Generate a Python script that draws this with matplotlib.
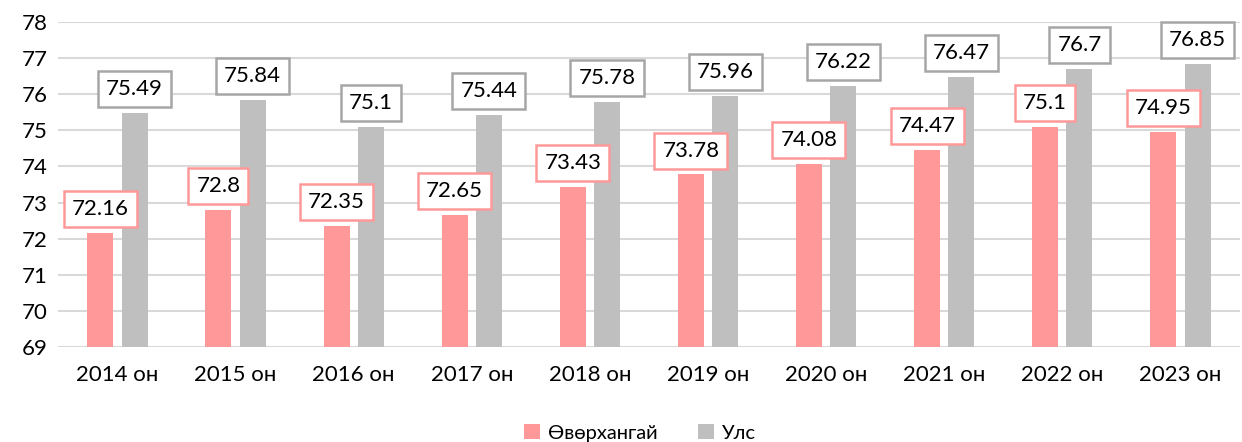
import matplotlib
matplotlib.use("Agg")
import matplotlib.pyplot as plt
import numpy as np

categories = ["2014 он", "2015 он", "2016 он", "2017 он", "2018 он",
              "2019 он", "2020 он", "2021 он", "2022 он", "2023 он"]
uvurkhangai = [72.16, 72.8, 72.35, 72.65, 73.43, 73.78, 74.08, 74.47, 75.1, 74.95]
uls = [75.49, 75.84, 75.1, 75.44, 75.78, 75.96, 76.22, 76.47, 76.7, 76.85]
series_names = ["Өвөрхангай", "Улс"]

plt.rcParams['font.family'] = ['Lato', 'DejaVu Sans']

fig = plt.figure(figsize=(12.42, 4.42), dpi=100)
ax = fig.add_axes([0.047, 0.215, 0.951, 0.735])

x = np.arange(len(categories))
w = 0.22
off = 0.145
pink = "#FF9999"
gray = "#BFBFBF"
b1 = ax.bar(x - off, [v - 69 for v in uvurkhangai], w, bottom=69, color=pink, label=series_names[0], zorder=3)
b2 = ax.bar(x + off, [v - 69 for v in uls], w, bottom=69, color=gray, label=series_names[1], zorder=3)

def fmt(v):
    s = f"{v:.2f}".rstrip('0').rstrip('.')
    return s

for xi, v in zip(x, uvurkhangai):
    ax.annotate(fmt(v), (xi - off, v), xytext=(0, 10), textcoords="offset points",
                ha="center", va="bottom", fontsize=16, zorder=5,
                bbox=dict(boxstyle="square,pad=0.36", fc="white", ec=pink, lw=1.8))
for xi, v in zip(x, uls):
    ax.annotate(fmt(v), (xi + off, v), xytext=(0, 10), textcoords="offset points",
                ha="center", va="bottom", fontsize=16, zorder=5,
                bbox=dict(boxstyle="square,pad=0.36", fc="white", ec="#A6A6A6", lw=1.8))

ax.set_ylim(69, 78)
ax.set_yticks(range(69, 79))
ax.set_xlim(-0.5, len(categories) - 0.5)
ax.set_xticks(x)
ax.set_xticklabels(categories)
ax.tick_params(axis='both', length=0, labelsize=16)
ax.tick_params(axis='x', pad=13)
ax.tick_params(axis='y', pad=8)
ax.grid(axis='y', color="#D9D9D9", lw=1.5, zorder=0)
for s in ax.spines.values():
    s.set_visible(False)

fig.legend(handles=[b1, b2], labels=series_names, loc="lower center", ncol=2,
           bbox_to_anchor=(0.515, -0.04), frameon=False, fontsize=14.5,
           handlelength=0.8, handleheight=0.8, handletextpad=0.4, columnspacing=2.0)

fig.savefig("out.png", dpi=100)
